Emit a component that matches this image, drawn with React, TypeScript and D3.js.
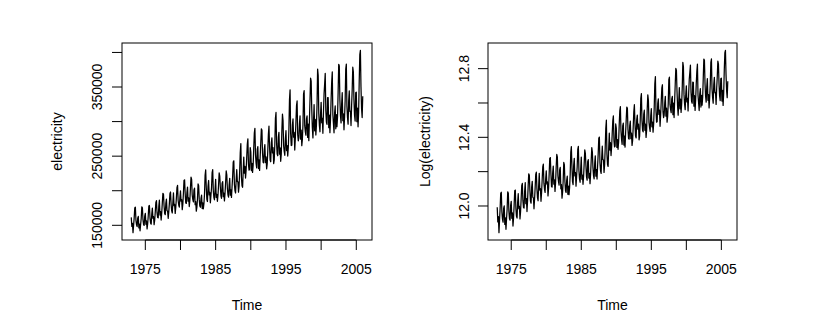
import React from "react";
import * as d3 from "d3";

const startYear = 1973;

// Monthly electricity generation, Jan 1973 - Dec 2005
const electricity = [
  161500,148300,152900,139300,150100,160700,175200,176300,157200,150800,148100,160400,
  162900,146200,151800,142100,151300,160200,176800,175400,157900,151100,149800,163300,
  167100,151500,156300,144800,151900,163800,177900,178600,160400,153200,151700,166200,
  174800,160200,162500,150900,157400,169800,183200,185700,167900,161400,160800,177300,
  186400,164900,169800,157600,167900,182700,196300,194800,177900,167200,165400,181600,
  187900,171200,170600,160100,169500,181400,195600,198200,180300,170900,167800,182900,
  196900,178400,180200,167300,176100,189700,204300,207800,185900,179400,176200,190100,
  199800,184900,187200,172600,180500,196400,214900,215800,196200,182300,181700,197400,
  205300,184800,189600,177100,186400,203900,219700,216500,193800,187600,183900,201200,
  203700,179900,184200,170400,176300,188600,209800,207200,187500,177800,176100,188900,
  193800,174200,182600,173900,181300,195200,222400,230100,204700,187600,184400,206300,
  214800,193900,197700,182600,193400,204500,226300,230400,199800,190200,186900,201700,
  216400,190300,194800,184700,193900,208600,225800,221300,205400,192700,189100,210800,
  213200,191500,196700,185300,196200,211800,228600,222900,203500,194100,190700,208300,
  217900,193600,201200,190400,205800,220700,241400,243200,209600,199800,196700,215400,
  230600,213400,212800,197900,207100,228300,255400,268200,219700,207300,204900,227800,
  248700,225400,235300,218400,229600,247900,267300,275100,238200,229700,230800,262400,
  256300,228900,239700,226500,236800,261400,283500,290200,252100,239800,233100,259700,
  263800,232100,244600,229300,249700,269200,289600,287400,254300,241200,240300,259800,
  266700,240800,248900,231700,238600,258400,281800,293600,262800,244500,241900,268800,
  276400,254700,262300,239300,244600,267900,304800,313200,268100,252900,250600,277400,
  284300,252900,262100,242600,253300,286700,310900,301400,264700,256800,251300,275200,
  286800,258100,265400,250200,262500,289300,331700,345900,282600,265300,265800,295400,
  303800,277400,284300,258900,276200,299600,323300,329800,281500,272200,276400,296300,
  308400,274600,287800,265100,274200,295800,339700,344800,294100,285600,280400,303800,
  308200,277100,296300,272400,301500,331700,362800,358600,317900,291200,276300,299600,
  324500,286700,303300,280600,294900,324300,375900,366400,311800,294600,285300,310700,
  327800,298300,304700,283100,313400,340200,354300,369700,315600,299400,296100,334800,
  334600,291200,309400,283900,303100,331700,356900,371800,310500,297200,283800,312600,
  322600,289600,310100,292700,306900,342800,382900,380400,331600,308400,298100,325500,
  341800,301300,311200,288100,306700,330800,375900,383200,322300,305900,296200,329800,
  344500,314700,315200,294200,323100,345900,378600,371900,331400,309100,300800,341700,
  342600,299900,319400,292400,313800,358800,396800,403100,350300,318700,305900,336500,
];

const xTicks = [1975, 1980, 1985, 1990, 1995, 2000, 2005];
const xTickLabels = ["1975", "", "1985", "", "1995", "", "2005"];

const leftYTicks = [150000, 200000, 250000, 300000, 350000, 400000];
const leftYTickLabels = ["150000", "", "250000", "", "350000", ""];

const rightYTicks = [12.0, 12.2, 12.4, 12.6, 12.8];
const rightYTickLabels = ["12.0", "", "12.4", "", "12.8"];

const FONT = "'Liberation Sans', Arial, Helvetica, sans-serif";
const FS = 14;

function padExtent(ext: [number, number]): [number, number] {
  const r = ext[1] - ext[0];
  return [ext[0] - 0.04 * r, ext[1] + 0.04 * r];
}

type PanelProps = {
  x0: number;
  x1: number;
  values: number[];
  yTicks: number[];
  yTickLabels: string[];
  ylab: string;
  ylabX: number;
  yTickLabelX: number;
};

function Panel({ x0, x1, values, yTicks, yTickLabels, ylab, ylabX, yTickLabelX }: PanelProps) {
  const y0 = 43;
  const y1 = 240;
  const times = values.map((_, i) => startYear + i / 12);
  const xs = d3
    .scaleLinear()
    .domain(padExtent(d3.extent(times) as [number, number]))
    .range([x0, x1]);
  const ys = d3
    .scaleLinear()
    .domain(padExtent(d3.extent(values) as [number, number]))
    .range([y1, y0]);
  const line = d3
    .line<number>()
    .x((_, i) => xs(times[i]))
    .y((d) => ys(d));
  const tickLen = 10;
  return (
    <g>
      <path d={line(values) || ""} fill="none" stroke="#000" strokeWidth={1.25} strokeLinejoin="round" />
      <rect x={x0} y={y0} width={x1 - x0} height={y1 - y0} fill="none" stroke="#000" strokeWidth={1} />
      <line x1={xs(xTicks[0])} x2={xs(xTicks[xTicks.length - 1])} y1={y1} y2={y1} stroke="#000" />
      {xTicks.map((t, i) => (
        <g key={"xt" + t}>
          <line x1={xs(t)} x2={xs(t)} y1={y1} y2={y1 + tickLen} stroke="#000" />
          {xTickLabels[i] && (
            <text x={xs(t)} y={274} textAnchor="middle" fontFamily={FONT} fontSize={FS} fill="#000">
              {xTickLabels[i]}
            </text>
          )}
        </g>
      ))}
      {yTicks.map((t, i) => (
        <g key={"yt" + t}>
          <line x1={x0 - tickLen} x2={x0} y1={ys(t)} y2={ys(t)} stroke="#000" />
          {yTickLabels[i] && (
            <text
              transform={`translate(${yTickLabelX},${ys(t)}) rotate(-90)`}
              textAnchor="middle"
              fontFamily={FONT}
              fontSize={FS}
              fill="#000"
            >
              {yTickLabels[i]}
            </text>
          )}
        </g>
      ))}
      <text x={(x0 + x1) / 2} y={310} textAnchor="middle" fontFamily={FONT} fontSize={FS} fill="#000">
        Time
      </text>
      <text
        transform={`translate(${ylabX},${(y0 + y1) / 2}) rotate(-90)`}
        textAnchor="middle"
        fontFamily={FONT}
        fontSize={FS}
        fill="#000"
      >
        {ylab}
      </text>
    </g>
  );
}

export default function App() {
  const logValues = electricity.map((v) => Math.log(v));
  return (
    <svg
      width={814}
      height={331}
      style={{ position: "absolute", left: 0, top: 0, background: "#fff" }}
    >
      <rect x={0} y={0} width={814} height={331} fill="#fff" />
      <Panel
        x0={122}
        x1={372}
        values={electricity}
        yTicks={leftYTicks}
        yTickLabels={leftYTickLabels}
        ylab="electricity"
        ylabX={62}
        yTickLabelX={102}
      />
      <Panel
        x0={488}
        x1={737}
        values={logValues}
        yTicks={rightYTicks}
        yTickLabels={rightYTickLabels}
        ylab="Log(electricity)"
        ylabX={430}
        yTickLabelX={469}
      />
    </svg>
  );
}
